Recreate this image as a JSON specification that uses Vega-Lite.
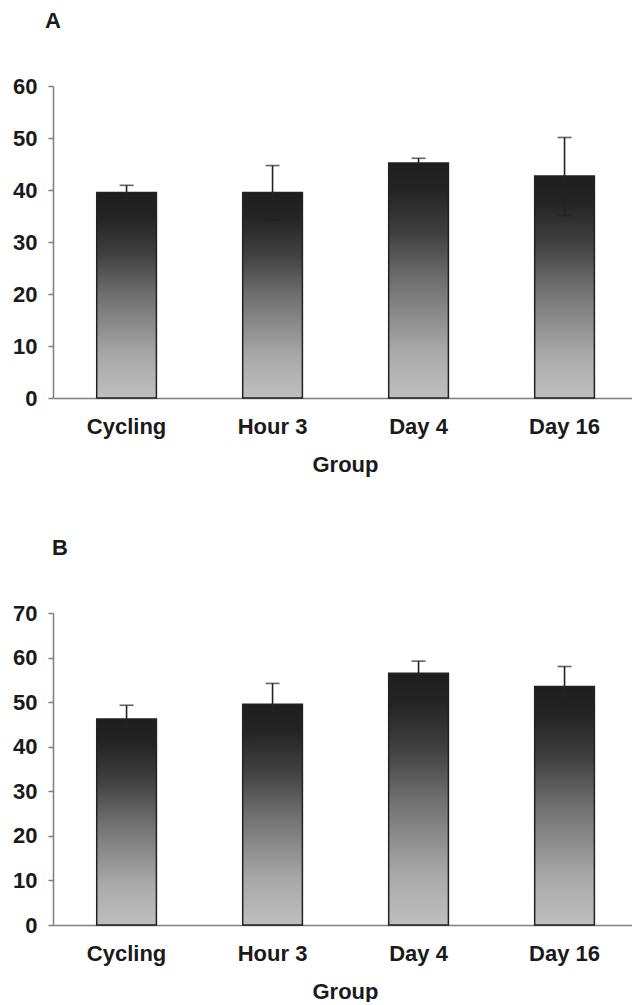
{
  "$schema": "https://vega.github.io/schema/vega-lite/v6.json",
  "padding": {"left": 12, "top": 10, "right": 0, "bottom": 0},
  "background": "white",
  "spacing": 62,
  "datasets": {
    "bars": [
      {"panel": "A", "group": "Cycling", "mean": 39.5, "lo": 38.1, "hi": 40.9},
      {"panel": "A", "group": "Hour 3", "mean": 39.5, "lo": 34.2, "hi": 44.7},
      {"panel": "A", "group": "Day 4", "mean": 45.2, "lo": 44.3, "hi": 46.1},
      {"panel": "A", "group": "Day 16", "mean": 42.7, "lo": 35.1, "hi": 50.1},
      {"panel": "B", "group": "Cycling", "mean": 46.2, "lo": 42.9, "hi": 49.3},
      {"panel": "B", "group": "Hour 3", "mean": 49.5, "lo": 45.0, "hi": 54.2},
      {"panel": "B", "group": "Day 4", "mean": 56.5, "lo": 53.6, "hi": 59.2},
      {"panel": "B", "group": "Day 16", "mean": 53.5, "lo": 48.8, "hi": 58.0}
    ]
  },
  "config": {
    "view": {"stroke": null},
    "font": "Liberation Sans",
    "axis": {
      "labelFont": "Liberation Sans",
      "labelFontSize": 22,
      "labelFontWeight": "bold",
      "labelColor": "#1a1a1a",
      "domainColor": "#7f7f7f",
      "domainWidth": 1.5,
      "tickColor": "#7f7f7f",
      "tickWidth": 1.5,
      "grid": false,
      "titleFont": "Liberation Sans",
      "titleFontSize": 22,
      "titleFontWeight": "bold",
      "titleColor": "#1a1a1a"
    },
    "title": {
      "font": "Liberation Sans",
      "fontSize": 22,
      "fontWeight": "bold",
      "color": "#1a1a1a",
      "anchor": "start",
      "frame": "group",
      "baseline": "top",
      "offset": 42
    }
  },
  "vconcat": [
    {
      "title": {"text": "A", "dx": -8},
      "width": 579,
      "height": 312,
      "data": {"name": "bars"},
      "transform": [{"filter": "datum.panel == 'A'"}],
      "encoding": {
        "x": {
          "field": "group", "type": "nominal",
          "sort": ["Cycling", "Hour 3", "Day 4", "Day 16"],
          "scale": {"paddingInner": 0.591, "paddingOuter": 0.2785, "align": 0.5375},
          "axis": {"title": "Group", "labelAngle": 0, "ticks": false, "tickSize": 0, "labelPadding": 18, "titleX": 292, "titleY": 56, "titleBaseline": "top", "titleAlign": "center"}
        }
      },
      "layer": [
        {
          "mark": {
            "type": "bar",
            "stroke": "#222222",
            "strokeWidth": 1.5,
            "fill": {
              "gradient": "linear", "x1": 0, "y1": 0, "x2": 0, "y2": 1,
              "stops": [
                {"offset": 0, "color": "#1e1e1e"},
                {"offset": 0.12, "color": "#242424"},
                {"offset": 0.3, "color": "#404040"},
                {"offset": 0.5, "color": "#6f6f6f"},
                {"offset": 0.8, "color": "#a9a9a9"},
                {"offset": 1, "color": "#bfbfbf"}
              ]
            }
          },
          "encoding": {
            "y": {
              "field": "mean", "type": "quantitative", "title": null,
              "scale": {"domain": [0, 60], "nice": false},
              "axis": {"values": [0, 10, 20, 30, 40, 50, 60], "tickSize": 5, "labelPadding": 11}
            }
          }
        },
        {
          "mark": {"type": "rule", "color": "#222222", "strokeWidth": 1.6},
          "encoding": {
            "y": {"field": "lo", "type": "quantitative", "title": null},
            "y2": {"field": "hi"}
          }
        },
        {
          "mark": {"type": "tick", "color": "#222222", "thickness": 1.6, "size": 14},
          "encoding": {"y": {"field": "hi", "type": "quantitative", "title": null}}
        },
        {
          "mark": {"type": "tick", "color": "#222222", "thickness": 1.6, "size": 14},
          "encoding": {"y": {"field": "lo", "type": "quantitative", "title": null}}
        }
      ]
    },
    {
      "title": {"text": "B", "dx": -1},
      "width": 579,
      "height": 312,
      "data": {"name": "bars"},
      "transform": [{"filter": "datum.panel == 'B'"}],
      "encoding": {
        "x": {
          "field": "group", "type": "nominal",
          "sort": ["Cycling", "Hour 3", "Day 4", "Day 16"],
          "scale": {"paddingInner": 0.591, "paddingOuter": 0.2785, "align": 0.5375},
          "axis": {"title": "Group", "labelAngle": 0, "ticks": false, "tickSize": 0, "labelPadding": 18, "titleX": 292, "titleY": 56, "titleBaseline": "top", "titleAlign": "center"}
        }
      },
      "layer": [
        {
          "mark": {
            "type": "bar",
            "stroke": "#222222",
            "strokeWidth": 1.5,
            "fill": {
              "gradient": "linear", "x1": 0, "y1": 0, "x2": 0, "y2": 1,
              "stops": [
                {"offset": 0, "color": "#1e1e1e"},
                {"offset": 0.12, "color": "#242424"},
                {"offset": 0.3, "color": "#404040"},
                {"offset": 0.5, "color": "#6f6f6f"},
                {"offset": 0.8, "color": "#a9a9a9"},
                {"offset": 1, "color": "#bfbfbf"}
              ]
            }
          },
          "encoding": {
            "y": {
              "field": "mean", "type": "quantitative", "title": null,
              "scale": {"domain": [0, 70], "nice": false},
              "axis": {"values": [0, 10, 20, 30, 40, 50, 60, 70], "tickSize": 5, "labelPadding": 11}
            }
          }
        },
        {
          "mark": {"type": "rule", "color": "#222222", "strokeWidth": 1.6},
          "encoding": {
            "y": {"field": "lo", "type": "quantitative", "title": null},
            "y2": {"field": "hi"}
          }
        },
        {
          "mark": {"type": "tick", "color": "#222222", "thickness": 1.6, "size": 14},
          "encoding": {"y": {"field": "hi", "type": "quantitative", "title": null}}
        },
        {
          "mark": {"type": "tick", "color": "#222222", "thickness": 1.6, "size": 14},
          "encoding": {"y": {"field": "lo", "type": "quantitative", "title": null}}
        }
      ]
    }
  ]
}
